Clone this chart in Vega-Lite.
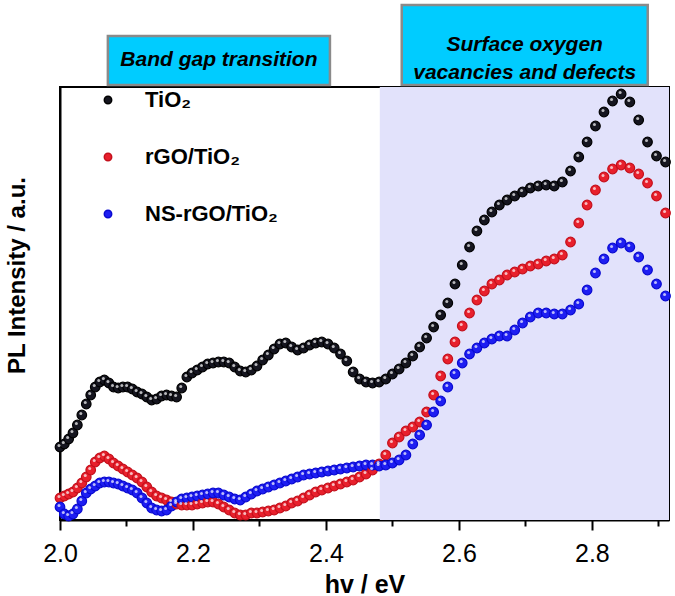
{
  "$schema": "https://vega.github.io/schema/vega-lite/v6.json",
  "width": 609,
  "height": 433,
  "autosize": {"type": "none"},
  "padding": {"left": 60, "top": 87, "right": 6, "bottom": 76},
  "background": "white",
  "config": {
    "view": {"stroke": "black", "strokeWidth": 2},
    "font": "Liberation Sans"
  },
  "datasets": {
    "pl": [
{"sample":"TiO₂","energy":2.0000,"intensity":71},{"sample":"TiO₂","energy":2.0065,"intensity":74},{"sample":"TiO₂","energy":2.0130,"intensity":79},{"sample":"TiO₂","energy":2.0195,"intensity":85},{"sample":"TiO₂","energy":2.0261,"intensity":93},{"sample":"TiO₂","energy":2.0328,"intensity":103},{"sample":"TiO₂","energy":2.0395,"intensity":114},{"sample":"TiO₂","energy":2.0462,"intensity":123},{"sample":"TiO₂","energy":2.0530,"intensity":131},{"sample":"TiO₂","energy":2.0598,"intensity":136},
{"sample":"TiO₂","energy":2.0667,"intensity":138},{"sample":"TiO₂","energy":2.0736,"intensity":135},{"sample":"TiO₂","energy":2.0805,"intensity":131},{"sample":"TiO₂","energy":2.0875,"intensity":130},{"sample":"TiO₂","energy":2.0946,"intensity":131},{"sample":"TiO₂","energy":2.1017,"intensity":131},{"sample":"TiO₂","energy":2.1088,"intensity":129},{"sample":"TiO₂","energy":2.1160,"intensity":126},{"sample":"TiO₂","energy":2.1233,"intensity":124},{"sample":"TiO₂","energy":2.1306,"intensity":121},
{"sample":"TiO₂","energy":2.1379,"intensity":118},{"sample":"TiO₂","energy":2.1453,"intensity":119},{"sample":"TiO₂","energy":2.1528,"intensity":122},{"sample":"TiO₂","energy":2.1603,"intensity":123},{"sample":"TiO₂","energy":2.1678,"intensity":122},{"sample":"TiO₂","energy":2.1754,"intensity":121},{"sample":"TiO₂","energy":2.1831,"intensity":130},{"sample":"TiO₂","energy":2.1908,"intensity":141},{"sample":"TiO₂","energy":2.1986,"intensity":145},{"sample":"TiO₂","energy":2.2064,"intensity":148},
{"sample":"TiO₂","energy":2.2143,"intensity":151},{"sample":"TiO₂","energy":2.2222,"intensity":154},{"sample":"TiO₂","energy":2.2302,"intensity":155},{"sample":"TiO₂","energy":2.2383,"intensity":156},{"sample":"TiO₂","energy":2.2464,"intensity":156},{"sample":"TiO₂","energy":2.2545,"intensity":155},{"sample":"TiO₂","energy":2.2628,"intensity":151},{"sample":"TiO₂","energy":2.2711,"intensity":147},{"sample":"TiO₂","energy":2.2794,"intensity":146},{"sample":"TiO₂","energy":2.2878,"intensity":148},
{"sample":"TiO₂","energy":2.2963,"intensity":152},{"sample":"TiO₂","energy":2.3048,"intensity":158},{"sample":"TiO₂","energy":2.3134,"intensity":163},{"sample":"TiO₂","energy":2.3221,"intensity":169},{"sample":"TiO₂","energy":2.3308,"intensity":174},{"sample":"TiO₂","energy":2.3396,"intensity":175},{"sample":"TiO₂","energy":2.3485,"intensity":171},{"sample":"TiO₂","energy":2.3574,"intensity":168},{"sample":"TiO₂","energy":2.3664,"intensity":170},{"sample":"TiO₂","energy":2.3755,"intensity":173},
{"sample":"TiO₂","energy":2.3846,"intensity":175},{"sample":"TiO₂","energy":2.3938,"intensity":176},{"sample":"TiO₂","energy":2.4031,"intensity":174},{"sample":"TiO₂","energy":2.4125,"intensity":170},{"sample":"TiO₂","energy":2.4219,"intensity":164},{"sample":"TiO₂","energy":2.4314,"intensity":157},{"sample":"TiO₂","energy":2.4409,"intensity":146},{"sample":"TiO₂","energy":2.4506,"intensity":139},{"sample":"TiO₂","energy":2.4603,"intensity":136},{"sample":"TiO₂","energy":2.4701,"intensity":135},
{"sample":"TiO₂","energy":2.4800,"intensity":136},{"sample":"TiO₂","energy":2.4900,"intensity":139},{"sample":"TiO₂","energy":2.5000,"intensity":144},{"sample":"TiO₂","energy":2.5101,"intensity":149},{"sample":"TiO₂","energy":2.5203,"intensity":155},{"sample":"TiO₂","energy":2.5306,"intensity":162},{"sample":"TiO₂","energy":2.5410,"intensity":171},{"sample":"TiO₂","energy":2.5514,"intensity":180},{"sample":"TiO₂","energy":2.5620,"intensity":191},{"sample":"TiO₂","energy":2.5726,"intensity":203},
{"sample":"TiO₂","energy":2.5833,"intensity":215},{"sample":"TiO₂","energy":2.5941,"intensity":234},{"sample":"TiO₂","energy":2.6050,"intensity":253},{"sample":"TiO₂","energy":2.6160,"intensity":271},{"sample":"TiO₂","energy":2.6271,"intensity":287},{"sample":"TiO₂","energy":2.6383,"intensity":298},{"sample":"TiO₂","energy":2.6496,"intensity":306},{"sample":"TiO₂","energy":2.6609,"intensity":313},{"sample":"TiO₂","energy":2.6724,"intensity":318},{"sample":"TiO₂","energy":2.6840,"intensity":322},
{"sample":"TiO₂","energy":2.6957,"intensity":326},{"sample":"TiO₂","energy":2.7074,"intensity":330},{"sample":"TiO₂","energy":2.7193,"intensity":332},{"sample":"TiO₂","energy":2.7313,"intensity":333},{"sample":"TiO₂","energy":2.7434,"intensity":332},{"sample":"TiO₂","energy":2.7556,"intensity":336},{"sample":"TiO₂","energy":2.7679,"intensity":347},{"sample":"TiO₂","energy":2.7803,"intensity":361},{"sample":"TiO₂","energy":2.7928,"intensity":376},{"sample":"TiO₂","energy":2.8054,"intensity":392},
{"sample":"TiO₂","energy":2.8182,"intensity":406},{"sample":"TiO₂","energy":2.8311,"intensity":417},{"sample":"TiO₂","energy":2.8440,"intensity":424},{"sample":"TiO₂","energy":2.8571,"intensity":416},{"sample":"TiO₂","energy":2.8704,"intensity":398},{"sample":"TiO₂","energy":2.8837,"intensity":376},{"sample":"TiO₂","energy":2.8972,"intensity":362},{"sample":"TiO₂","energy":2.9108,"intensity":356},
{"sample":"rGO/TiO₂","energy":2.0000,"intensity":20},{"sample":"rGO/TiO₂","energy":2.0065,"intensity":22},{"sample":"rGO/TiO₂","energy":2.0130,"intensity":24},{"sample":"rGO/TiO₂","energy":2.0195,"intensity":26},{"sample":"rGO/TiO₂","energy":2.0261,"intensity":30},{"sample":"rGO/TiO₂","energy":2.0328,"intensity":35},{"sample":"rGO/TiO₂","energy":2.0395,"intensity":41},{"sample":"rGO/TiO₂","energy":2.0462,"intensity":48},{"sample":"rGO/TiO₂","energy":2.0530,"intensity":56},{"sample":"rGO/TiO₂","energy":2.0598,"intensity":60},
{"sample":"rGO/TiO₂","energy":2.0667,"intensity":62},{"sample":"rGO/TiO₂","energy":2.0736,"intensity":59},{"sample":"rGO/TiO₂","energy":2.0805,"intensity":55},{"sample":"rGO/TiO₂","energy":2.0875,"intensity":52},{"sample":"rGO/TiO₂","energy":2.0946,"intensity":49},{"sample":"rGO/TiO₂","energy":2.1017,"intensity":46},{"sample":"rGO/TiO₂","energy":2.1088,"intensity":43},{"sample":"rGO/TiO₂","energy":2.1160,"intensity":40},{"sample":"rGO/TiO₂","energy":2.1233,"intensity":36},{"sample":"rGO/TiO₂","energy":2.1306,"intensity":31},
{"sample":"rGO/TiO₂","energy":2.1379,"intensity":26},{"sample":"rGO/TiO₂","energy":2.1453,"intensity":22},{"sample":"rGO/TiO₂","energy":2.1528,"intensity":20},{"sample":"rGO/TiO₂","energy":2.1603,"intensity":18},{"sample":"rGO/TiO₂","energy":2.1678,"intensity":16},{"sample":"rGO/TiO₂","energy":2.1754,"intensity":14},{"sample":"rGO/TiO₂","energy":2.1831,"intensity":13},{"sample":"rGO/TiO₂","energy":2.1908,"intensity":13},{"sample":"rGO/TiO₂","energy":2.1986,"intensity":13},{"sample":"rGO/TiO₂","energy":2.2064,"intensity":14},
{"sample":"rGO/TiO₂","energy":2.2143,"intensity":15},{"sample":"rGO/TiO₂","energy":2.2222,"intensity":16},{"sample":"rGO/TiO₂","energy":2.2302,"intensity":16},{"sample":"rGO/TiO₂","energy":2.2383,"intensity":14},{"sample":"rGO/TiO₂","energy":2.2464,"intensity":11},{"sample":"rGO/TiO₂","energy":2.2545,"intensity":8},{"sample":"rGO/TiO₂","energy":2.2628,"intensity":5},{"sample":"rGO/TiO₂","energy":2.2711,"intensity":3},{"sample":"rGO/TiO₂","energy":2.2794,"intensity":3},{"sample":"rGO/TiO₂","energy":2.2878,"intensity":5},
{"sample":"rGO/TiO₂","energy":2.2963,"intensity":5},{"sample":"rGO/TiO₂","energy":2.3048,"intensity":6},{"sample":"rGO/TiO₂","energy":2.3134,"intensity":7},{"sample":"rGO/TiO₂","energy":2.3221,"intensity":8},{"sample":"rGO/TiO₂","energy":2.3308,"intensity":10},{"sample":"rGO/TiO₂","energy":2.3396,"intensity":12},{"sample":"rGO/TiO₂","energy":2.3485,"intensity":15},{"sample":"rGO/TiO₂","energy":2.3574,"intensity":17},{"sample":"rGO/TiO₂","energy":2.3664,"intensity":20},{"sample":"rGO/TiO₂","energy":2.3755,"intensity":23},
{"sample":"rGO/TiO₂","energy":2.3846,"intensity":26},{"sample":"rGO/TiO₂","energy":2.3938,"intensity":28},{"sample":"rGO/TiO₂","energy":2.4031,"intensity":30},{"sample":"rGO/TiO₂","energy":2.4125,"intensity":32},{"sample":"rGO/TiO₂","energy":2.4219,"intensity":34},{"sample":"rGO/TiO₂","energy":2.4314,"intensity":36},{"sample":"rGO/TiO₂","energy":2.4409,"intensity":38},{"sample":"rGO/TiO₂","energy":2.4506,"intensity":41},{"sample":"rGO/TiO₂","energy":2.4603,"intensity":44},{"sample":"rGO/TiO₂","energy":2.4701,"intensity":48},
{"sample":"rGO/TiO₂","energy":2.4800,"intensity":54},{"sample":"rGO/TiO₂","energy":2.4900,"intensity":63},{"sample":"rGO/TiO₂","energy":2.5000,"intensity":75},{"sample":"rGO/TiO₂","energy":2.5101,"intensity":81},{"sample":"rGO/TiO₂","energy":2.5203,"intensity":87},{"sample":"rGO/TiO₂","energy":2.5306,"intensity":91},{"sample":"rGO/TiO₂","energy":2.5410,"intensity":96},{"sample":"rGO/TiO₂","energy":2.5514,"intensity":106},{"sample":"rGO/TiO₂","energy":2.5620,"intensity":123},{"sample":"rGO/TiO₂","energy":2.5726,"intensity":142},
{"sample":"rGO/TiO₂","energy":2.5833,"intensity":159},{"sample":"rGO/TiO₂","energy":2.5941,"intensity":176},{"sample":"rGO/TiO₂","energy":2.6050,"intensity":192},{"sample":"rGO/TiO₂","energy":2.6160,"intensity":205},{"sample":"rGO/TiO₂","energy":2.6271,"intensity":218},{"sample":"rGO/TiO₂","energy":2.6383,"intensity":227},{"sample":"rGO/TiO₂","energy":2.6496,"intensity":234},{"sample":"rGO/TiO₂","energy":2.6609,"intensity":238},{"sample":"rGO/TiO₂","energy":2.6724,"intensity":243},{"sample":"rGO/TiO₂","energy":2.6840,"intensity":246},
{"sample":"rGO/TiO₂","energy":2.6957,"intensity":249},{"sample":"rGO/TiO₂","energy":2.7074,"intensity":252},{"sample":"rGO/TiO₂","energy":2.7193,"intensity":254},{"sample":"rGO/TiO₂","energy":2.7313,"intensity":257},{"sample":"rGO/TiO₂","energy":2.7434,"intensity":259},{"sample":"rGO/TiO₂","energy":2.7556,"intensity":263},{"sample":"rGO/TiO₂","energy":2.7679,"intensity":276},{"sample":"rGO/TiO₂","energy":2.7803,"intensity":295},{"sample":"rGO/TiO₂","energy":2.7928,"intensity":313},{"sample":"rGO/TiO₂","energy":2.8054,"intensity":328},
{"sample":"rGO/TiO₂","energy":2.8182,"intensity":341},{"sample":"rGO/TiO₂","energy":2.8311,"intensity":349},{"sample":"rGO/TiO₂","energy":2.8440,"intensity":353},{"sample":"rGO/TiO₂","energy":2.8571,"intensity":350},{"sample":"rGO/TiO₂","energy":2.8704,"intensity":344},{"sample":"rGO/TiO₂","energy":2.8837,"intensity":335},{"sample":"rGO/TiO₂","energy":2.8972,"intensity":322},{"sample":"rGO/TiO₂","energy":2.9108,"intensity":305},
{"sample":"NS-rGO/TiO₂","energy":2.0000,"intensity":11},{"sample":"NS-rGO/TiO₂","energy":2.0065,"intensity":4},{"sample":"NS-rGO/TiO₂","energy":2.0130,"intensity":2},{"sample":"NS-rGO/TiO₂","energy":2.0195,"intensity":4},{"sample":"NS-rGO/TiO₂","energy":2.0261,"intensity":9},{"sample":"NS-rGO/TiO₂","energy":2.0328,"intensity":17},{"sample":"NS-rGO/TiO₂","energy":2.0395,"intensity":25},{"sample":"NS-rGO/TiO₂","energy":2.0462,"intensity":29},{"sample":"NS-rGO/TiO₂","energy":2.0530,"intensity":32},{"sample":"NS-rGO/TiO₂","energy":2.0598,"intensity":35},
{"sample":"NS-rGO/TiO₂","energy":2.0667,"intensity":36},{"sample":"NS-rGO/TiO₂","energy":2.0736,"intensity":36},{"sample":"NS-rGO/TiO₂","energy":2.0805,"intensity":35},{"sample":"NS-rGO/TiO₂","energy":2.0875,"intensity":34},{"sample":"NS-rGO/TiO₂","energy":2.0946,"intensity":32},{"sample":"NS-rGO/TiO₂","energy":2.1017,"intensity":30},{"sample":"NS-rGO/TiO₂","energy":2.1088,"intensity":28},{"sample":"NS-rGO/TiO₂","energy":2.1160,"intensity":25},{"sample":"NS-rGO/TiO₂","energy":2.1233,"intensity":20},{"sample":"NS-rGO/TiO₂","energy":2.1306,"intensity":15},
{"sample":"NS-rGO/TiO₂","energy":2.1379,"intensity":10},{"sample":"NS-rGO/TiO₂","energy":2.1453,"intensity":8},{"sample":"NS-rGO/TiO₂","energy":2.1528,"intensity":7},{"sample":"NS-rGO/TiO₂","energy":2.1603,"intensity":8},{"sample":"NS-rGO/TiO₂","energy":2.1678,"intensity":12},{"sample":"NS-rGO/TiO₂","energy":2.1754,"intensity":16},{"sample":"NS-rGO/TiO₂","energy":2.1831,"intensity":19},{"sample":"NS-rGO/TiO₂","energy":2.1908,"intensity":20},{"sample":"NS-rGO/TiO₂","energy":2.1986,"intensity":21},{"sample":"NS-rGO/TiO₂","energy":2.2064,"intensity":22},
{"sample":"NS-rGO/TiO₂","energy":2.2143,"intensity":23},{"sample":"NS-rGO/TiO₂","energy":2.2222,"intensity":24},{"sample":"NS-rGO/TiO₂","energy":2.2302,"intensity":25},{"sample":"NS-rGO/TiO₂","energy":2.2383,"intensity":25},{"sample":"NS-rGO/TiO₂","energy":2.2464,"intensity":23},{"sample":"NS-rGO/TiO₂","energy":2.2545,"intensity":21},{"sample":"NS-rGO/TiO₂","energy":2.2628,"intensity":19},{"sample":"NS-rGO/TiO₂","energy":2.2711,"intensity":18},{"sample":"NS-rGO/TiO₂","energy":2.2794,"intensity":21},{"sample":"NS-rGO/TiO₂","energy":2.2878,"intensity":24},
{"sample":"NS-rGO/TiO₂","energy":2.2963,"intensity":27},{"sample":"NS-rGO/TiO₂","energy":2.3048,"intensity":29},{"sample":"NS-rGO/TiO₂","energy":2.3134,"intensity":31},{"sample":"NS-rGO/TiO₂","energy":2.3221,"intensity":33},{"sample":"NS-rGO/TiO₂","energy":2.3308,"intensity":35},{"sample":"NS-rGO/TiO₂","energy":2.3396,"intensity":37},{"sample":"NS-rGO/TiO₂","energy":2.3485,"intensity":39},{"sample":"NS-rGO/TiO₂","energy":2.3574,"intensity":41},{"sample":"NS-rGO/TiO₂","energy":2.3664,"intensity":43},{"sample":"NS-rGO/TiO₂","energy":2.3755,"intensity":44},
{"sample":"NS-rGO/TiO₂","energy":2.3846,"intensity":45},{"sample":"NS-rGO/TiO₂","energy":2.3938,"intensity":46},{"sample":"NS-rGO/TiO₂","energy":2.4031,"intensity":47},{"sample":"NS-rGO/TiO₂","energy":2.4125,"intensity":48},{"sample":"NS-rGO/TiO₂","energy":2.4219,"intensity":49},{"sample":"NS-rGO/TiO₂","energy":2.4314,"intensity":50},{"sample":"NS-rGO/TiO₂","energy":2.4409,"intensity":51},{"sample":"NS-rGO/TiO₂","energy":2.4506,"intensity":52},{"sample":"NS-rGO/TiO₂","energy":2.4603,"intensity":53},{"sample":"NS-rGO/TiO₂","energy":2.4701,"intensity":53},
{"sample":"NS-rGO/TiO₂","energy":2.4800,"intensity":52},{"sample":"NS-rGO/TiO₂","energy":2.4900,"intensity":53},{"sample":"NS-rGO/TiO₂","energy":2.5000,"intensity":55},{"sample":"NS-rGO/TiO₂","energy":2.5101,"intensity":58},{"sample":"NS-rGO/TiO₂","energy":2.5203,"intensity":63},{"sample":"NS-rGO/TiO₂","energy":2.5306,"intensity":74},{"sample":"NS-rGO/TiO₂","energy":2.5410,"intensity":83},{"sample":"NS-rGO/TiO₂","energy":2.5514,"intensity":93},{"sample":"NS-rGO/TiO₂","energy":2.5620,"intensity":106},{"sample":"NS-rGO/TiO₂","energy":2.5726,"intensity":117},
{"sample":"NS-rGO/TiO₂","energy":2.5833,"intensity":131},{"sample":"NS-rGO/TiO₂","energy":2.5941,"intensity":144},{"sample":"NS-rGO/TiO₂","energy":2.6050,"intensity":155},{"sample":"NS-rGO/TiO₂","energy":2.6160,"intensity":164},{"sample":"NS-rGO/TiO₂","energy":2.6271,"intensity":170},{"sample":"NS-rGO/TiO₂","energy":2.6383,"intensity":175},{"sample":"NS-rGO/TiO₂","energy":2.6496,"intensity":179},{"sample":"NS-rGO/TiO₂","energy":2.6609,"intensity":182},{"sample":"NS-rGO/TiO₂","energy":2.6724,"intensity":182},{"sample":"NS-rGO/TiO₂","energy":2.6840,"intensity":188},
{"sample":"NS-rGO/TiO₂","energy":2.6957,"intensity":195},{"sample":"NS-rGO/TiO₂","energy":2.7074,"intensity":201},{"sample":"NS-rGO/TiO₂","energy":2.7193,"intensity":205},{"sample":"NS-rGO/TiO₂","energy":2.7313,"intensity":205},{"sample":"NS-rGO/TiO₂","energy":2.7434,"intensity":204},{"sample":"NS-rGO/TiO₂","energy":2.7556,"intensity":204},{"sample":"NS-rGO/TiO₂","energy":2.7679,"intensity":208},{"sample":"NS-rGO/TiO₂","energy":2.7803,"intensity":214},{"sample":"NS-rGO/TiO₂","energy":2.7928,"intensity":228},{"sample":"NS-rGO/TiO₂","energy":2.8054,"intensity":245},
{"sample":"NS-rGO/TiO₂","energy":2.8182,"intensity":259},{"sample":"NS-rGO/TiO₂","energy":2.8311,"intensity":270},{"sample":"NS-rGO/TiO₂","energy":2.8440,"intensity":275},{"sample":"NS-rGO/TiO₂","energy":2.8571,"intensity":271},{"sample":"NS-rGO/TiO₂","energy":2.8704,"intensity":261},{"sample":"NS-rGO/TiO₂","energy":2.8837,"intensity":248},{"sample":"NS-rGO/TiO₂","energy":2.8972,"intensity":234},{"sample":"NS-rGO/TiO₂","energy":2.9108,"intensity":222}
    ]
  },
  "layer": [
    {
      "data": {"values": [{"region": "Surface oxygen vacancies and defects"}]},
      "mark": {"type": "rect", "fill": "#E2E2FB"},
      "encoding": {
        "x": {"datum": 2.481, "type": "quantitative"},
        "x2": {"datum": 2.916},
        "y": {"datum": -2, "type": "quantitative"},
        "y2": {"datum": 431}
      }
    },
    {
      "data": {"name": "pl"},
      "mark": {"type": "point", "filled": true, "size": 92, "strokeWidth": 1.2, "opacity": 1},
      "encoding": {
        "x": {
          "field": "energy", "type": "quantitative",
          "scale": {"domain": [2.0, 2.916], "nice": false, "zero": false},
          "axis": {
            "title": "hv / eV", "titleFontSize": 25, "titleFontWeight": "bold", "titleColor": "black",
            "titleBaseline": "alphabetic", "titleY": 72,
            "values": [2.0, 2.1, 2.2, 2.3, 2.4, 2.5, 2.6, 2.7, 2.8, 2.9],
            "labelExpr": "round(datum.value*10)%2==0 ? format(datum.value,'.1f') : ''",
            "labelFontSize": 25, "labelColor": "black", "labelPadding": 11, "labelFlush": false,
            "tickSize": {"condition": {"test": "round(datum.value*10)%2==0", "value": 10}, "value": 6},
            "tickWidth": 2, "tickColor": "black",
            "domainColor": "black", "domainWidth": 2, "grid": false
          }
        },
        "y": {
          "field": "intensity", "type": "quantitative",
          "scale": {"domain": [-2, 431], "nice": false, "zero": false},
          "axis": {
            "title": "PL Intensity / a.u.", "titleFontSize": 24, "titleFontWeight": "bold", "titleColor": "black",
            "titleX": -31, "titleY": 188,
            "labels": false, "ticks": false, "grid": false, "domainColor": "black", "domainWidth": 2
          }
        },
        "color": {
          "field": "sample", "type": "nominal",
          "scale": {"domain": ["TiO₂", "rGO/TiO₂", "NS-rGO/TiO₂"], "range": ["#15151f", "#e8202c", "#1e1ef2"]},
          "legend": {
            "orient": "none", "legendX": 37, "legendY": 2, "title": null,
            "labelFontSize": 22, "labelFontWeight": "bold", "labelColor": "black", "labelOffset": 26,
            "rowPadding": 35, "symbolSize": 55, "symbolType": "circle"
          }
        },
        "stroke": {"field": "sample", "type": "nominal", "scale": {"domain": ["TiO₂", "rGO/TiO₂", "NS-rGO/TiO₂"], "range": ["#000000", "#c4101c", "#0a0ad0"]}, "legend": null},
        "order": {"field": "energy", "type": "quantitative"}
      }
    },
    {
      "data": {"name": "pl"},
      "mark": {"type": "point", "filled": true, "size": 9, "color": "white", "opacity": 0.7, "xOffset": -1, "yOffset": -1.5},
      "encoding": {
        "x": {"field": "energy", "type": "quantitative"},
        "y": {"field": "intensity", "type": "quantitative"}
      }
    },
    {
      "data": {"values": [{"label": "Band gap transition"}]},
      "mark": {"type": "rect", "fill": "#00CCFF", "stroke": "#8a8a8a", "strokeWidth": 2.5},
      "encoding": {
        "x": {"datum": 2.072, "type": "quantitative"},
        "x2": {"datum": 2.406},
        "y": {"datum": 433, "type": "quantitative"},
        "y2": {"datum": 482}
      }
    },
    {
      "data": {"values": [{"label": "Band gap transition"}]},
      "mark": {"type": "text", "fontSize": 21, "fontWeight": "bold", "fontStyle": "italic", "color": "black", "align": "center", "baseline": "middle"},
      "encoding": {
        "x": {"datum": 2.239, "type": "quantitative"},
        "y": {"datum": 458, "type": "quantitative"},
        "text": {"field": "label"}
      }
    },
    {
      "data": {"values": [{"label": "Surface oxygen vacancies and defects"}]},
      "mark": {"type": "rect", "fill": "#00CCFF", "stroke": "#8a8a8a", "strokeWidth": 2.5},
      "encoding": {
        "x": {"datum": 2.514, "type": "quantitative"},
        "x2": {"datum": 2.884},
        "y": {"datum": 433, "type": "quantitative"},
        "y2": {"datum": 513}
      }
    },
    {
      "data": {"values": [{"label": ["Surface oxygen", "vacancies and defects"]}]},
      "mark": {"type": "text", "fontSize": 21, "fontWeight": "bold", "fontStyle": "italic", "color": "black", "align": "center", "baseline": "middle", "lineHeight": 28},
      "encoding": {
        "x": {"datum": 2.699, "type": "quantitative"},
        "y": {"datum": 473, "type": "quantitative"},
        "text": {"field": "label"}
      }
    }
  ]
}
